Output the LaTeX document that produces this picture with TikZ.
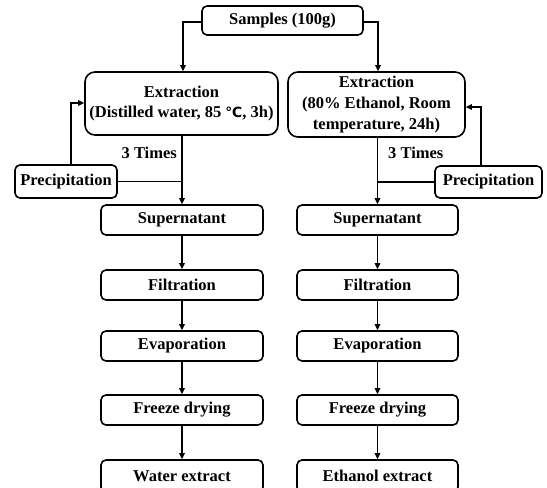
\documentclass[tikz,border=0pt]{standalone}
\usepackage{fontspec}
\setmainfont{Liberation Serif}
\newfontfamily\symfont{DejaVu Sans}
\usetikzlibrary{arrows.meta}
\tikzset{
  box/.style={draw, line width=1.6pt, rounded corners=5pt, inner sep=0pt, align=center,
    font=\fontsize{16.5}{20}\selectfont\bfseries},
  bigbox/.style={box, rounded corners=10pt},
  conn/.style={line width=1.4pt},
  arr/.style={conn, -{Triangle[length=6pt,width=5.5pt]}},
  lbl/.style={inner sep=0pt, font=\fontsize{16.5}{20}\selectfont\bfseries}
}
\begin{document}
\begin{tikzpicture}[x=1pt,y=-1pt]
\useasboundingbox (0,0) rectangle (547,488);
% top
\node[box, minimum width=161pt, minimum height=29pt] (samples) at (282.5,20.5) {Samples (100g)};
\node[bigbox, minimum width=193pt, minimum height=63pt] (ext1) at (181.5,103.5)
  {Extraction\\(Distilled water, 85 {\symfont\fontsize{14}{14}\selectfont\bfseries ℃}, 3h)};
\node[bigbox, minimum width=177pt, minimum height=65pt, font=\fontsize{16.5}{21}\selectfont\bfseries] (ext2) at (376.5,104.5)
  {Extraction\\(80\% Ethanol, Room\\temperature, 24h)};
\node[box, minimum width=102pt, minimum height=33pt] (prec1) at (66,181.5) {Precipitation};
\node[box, minimum width=107pt, minimum height=32pt] (prec2) at (488.5,182) {Precipitation};
% left column
\node[box, minimum width=162pt, minimum height=30pt] (sup1) at (182,220) {Supernatant};
\node[box, minimum width=162pt, minimum height=30pt] (fil1) at (182,285) {Filtration};
\node[box, minimum width=162pt, minimum height=30pt] (eva1) at (182,346) {Evaporation};
\node[box, minimum width=162pt, minimum height=30pt] (fre1) at (182,410) {Freeze drying};
\node[box, minimum width=162pt, minimum height=32pt] (wat1) at (182,476) {Water extract};
% right column
\node[box, minimum width=161pt, minimum height=30pt] (sup2) at (377.5,220) {Supernatant};
\node[box, minimum width=161pt, minimum height=30pt] (fil2) at (377.5,285) {Filtration};
\node[box, minimum width=161pt, minimum height=30pt] (eva2) at (377.5,346) {Evaporation};
\node[box, minimum width=161pt, minimum height=30pt] (fre2) at (377.5,410) {Freeze drying};
\node[box, minimum width=161pt, minimum height=32pt] (eth2) at (377.5,476) {Ethanol extract};
% labels
\node[lbl, anchor=east] (t1) at (177,153) {3 Times};
\node[lbl, anchor=west] (t2) at (388,153) {3 Times};
% connectors
\coordinate (sL) at (183,22);
\coordinate (sR) at (378,22);
\draw[arr] (samples.west |- sL) -| (sL |- ext1.north);
\draw[arr] (samples.east |- sR) -| (sR |- ext2.north);
\draw[arr] (ext1.south -| sup1.north) -- (sup1.north);
\draw[arr] (ext2.south -| sup2.north) -- (sup2.north);
\draw[conn] (prec1.east) -- (prec1.east -| sup1.north);
\draw[conn] (prec2.west) -- (prec2.west -| sup2.north);
\coordinate (p1) at (71,103);
\coordinate (p2) at (481,107);
\draw[arr] (p1 |- prec1.north) -- (p1) -- (p1 -| ext1.west);
\draw[arr] (p2 |- prec2.north) -- (p2) -- (p2 -| ext2.east);
\draw[arr] (sup1) -- (fil1);
\draw[arr] (fil1) -- (eva1);
\draw[arr] (eva1) -- (fre1);
\draw[arr] (fre1) -- (wat1);
\draw[arr] (sup2) -- (fil2);
\draw[arr] (fil2) -- (eva2);
\draw[arr] (eva2) -- (fre2);
\draw[arr] (fre2) -- (eth2);
\end{tikzpicture}
\end{document}
